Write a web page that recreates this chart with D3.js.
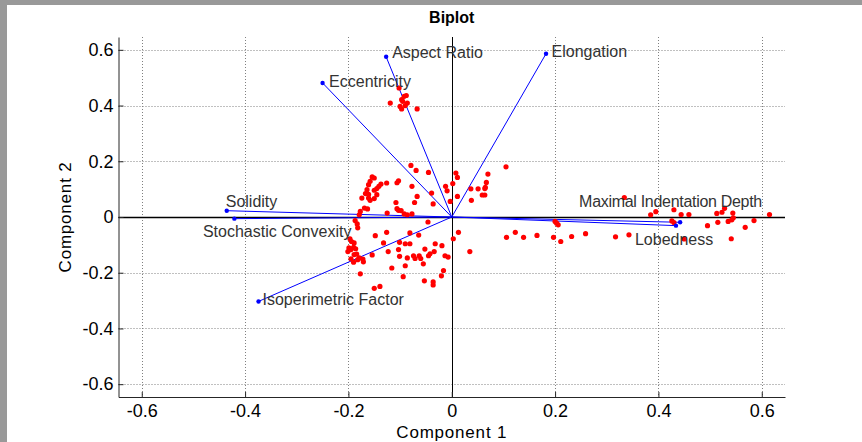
<!DOCTYPE html>
<html>
<head>
<meta charset="utf-8">
<script src="https://cdn.jsdelivr.net/npm/d3@7"></script>
<style>
  body { margin: 0; background: #999999; }
  svg { display: block; font-family: "Liberation Sans", Arial, sans-serif; }
</style>
</head>
<body>
<svg width="862" height="442"></svg>
<script>
// ---- Data
const varNames = ['Aspect Ratio', 'Eccentricity', 'Elongation', 'Solidity',
    'Stochastic Convexity', 'Isoperimetric Factor', 'Maximal Indentation Depth', 'Lobedness'];
const loadX = [-0.127, -0.250, 0.1825, -0.4355, -0.4207, -0.374, 0.442, 0.434];
const loadY = [0.575, 0.481, 0.586, 0.0226, -0.006, -0.303, -0.019, -0.031];

const scores = [
    [-0.102,0.463],[-0.119,0.409],[-0.097,0.421],[-0.092,0.433],[-0.088,0.436],[-0.095,0.415],
    [-0.100,0.397],[-0.097,0.388],[-0.090,0.400],[-0.086,0.409],[-0.067,0.388],
    [-0.079,0.185],[-0.069,0.167],[-0.045,0.160],[-0.154,0.144],[-0.150,0.140],[-0.158,0.128],
    [-0.161,0.116],[-0.103,0.130],[-0.106,0.123],[-0.126,0.122],[-0.137,0.118],[-0.141,0.110],
    [-0.145,0.102],[-0.164,0.098],[-0.150,0.096],[-0.077,0.110],[-0.167,0.084],[-0.161,0.081],
    [-0.145,0.080],[-0.174,0.068],[-0.161,0.068],[-0.158,0.060],[-0.150,0.066],[-0.067,0.074],
    [-0.039,0.086],[-0.072,0.052],[-0.108,0.052],[-0.036,0.047],[-0.106,0.030],[-0.103,0.024],
    [-0.098,0.023],[-0.169,0.032],[-0.163,0.029],[-0.177,0.020],[-0.179,0.008],[-0.125,0.014],
    [-0.092,0.011],[-0.086,0.008],[-0.077,0.011],
    [0.008,0.158],[0.011,0.142],[-0.012,0.110],[-0.009,0.094],[0.002,0.120],[-0.003,0.056],
    [0.011,0.074],[0.037,0.101],[0.038,0.060],[0.070,0.154],[0.067,0.124],[0.065,0.106],
    [0.064,0.102],[0.051,0.101],[0.059,0.079],[0.064,0.079],[0.105,0.180],
    [-0.187,-0.013],[-0.183,-0.025],[-0.182,-0.039],[-0.046,-0.018],[-0.126,-0.055],[-0.148,-0.067],
    [-0.064,-0.065],[-0.081,-0.057],[0.013,-0.055],[0.003,-0.078],
    [-0.197,-0.078],[-0.194,-0.088],[-0.189,-0.093],[-0.190,-0.109],[-0.186,-0.114],[-0.195,-0.117],
    [-0.199,-0.111],[-0.201,-0.124],[-0.189,-0.135],[-0.184,-0.133],[-0.195,-0.150],[-0.190,-0.162],
    [-0.182,-0.153],[-0.179,-0.147],
    [-0.132,-0.093],[-0.101,-0.091],[-0.090,-0.096],[-0.081,-0.096],[-0.032,-0.096],[-0.019,-0.103],
    [-0.103,-0.117],[-0.123,-0.124],[-0.052,-0.115],[-0.034,-0.124],[-0.042,-0.132],[-0.045,-0.139],
    [-0.154,-0.136],[-0.101,-0.141],[-0.086,-0.147],[-0.074,-0.139],[-0.071,-0.149],[-0.063,-0.139],
    [-0.060,-0.149],[-0.013,-0.139],[-0.007,-0.144],[-0.172,-0.151],[-0.171,-0.161],[-0.055,-0.168],
    [-0.090,-0.175],[-0.116,-0.183],[-0.177,-0.204],[-0.016,-0.192],[-0.020,-0.211],[-0.094,-0.214],
    [-0.053,-0.229],[-0.036,-0.233],[-0.036,-0.244],[-0.139,-0.249],[-0.150,-0.256],[0.035,-0.124],
    [0.106,-0.073],[0.123,-0.055],[0.139,-0.073],[0.165,-0.066],[0.197,-0.073],[0.211,-0.088],
    [0.232,-0.070],[0.259,-0.060],[0.200,-0.016],[0.203,-0.022],[0.206,-0.028],
    [0.334,0.070],[0.385,0.008],[0.395,0.019],[0.430,0.026],[0.426,-0.014],[0.430,-0.020],
    [0.444,0.009],[0.459,0.009],[0.317,-0.071],[0.343,-0.064],[0.450,-0.079],[0.495,-0.031],
    [0.513,0.013],[0.515,-0.019],[0.523,0.017],[0.528,0.031],[0.535,-0.016],[0.544,0.014],
    [0.545,-0.003],[0.542,-0.010],[0.541,-0.078],[0.568,-0.037],[0.585,-0.013],[0.615,0.009]
];

const xTicks = [-0.6, -0.4, -0.2, 0, 0.2, 0.4, 0.6];
const yTicks = [-0.6, -0.4, -0.2, 0, 0.2, 0.4, 0.6];

// ---- Layout
const svg = d3.select('svg');
const W = 862, H = 442;
const margens = { left: 118.5, right: 77, top: 37, bottom: 45 };

svg.append('rect').attr('width', W).attr('height', H).attr('fill', '#999999');
svg.append('rect').attr('x', 7).attr('y', 5).attr('width', W - 7).attr('height', H - 5).attr('fill', '#ffffff');

const mapX = d3.scaleLinear().domain([-0.645, 0.645]).range([margens.left, W - margens.right]);
const mapY = d3.scaleLinear().domain([-0.646, 0.646]).range([H - margens.bottom, margens.top]);

// ---- Grid
const grid = svg.append('g')
    .attr('stroke', '#808080')
    .attr('stroke-width', 1)
    .attr('stroke-dasharray', '1,2');
grid.selectAll('.gx').data(xTicks).join('line')
    .attr('class', 'gx')
    .attr('x1', d => Math.round(mapX(d)) + 0.5).attr('x2', d => Math.round(mapX(d)) + 0.5)
    .attr('y1', mapY.range()[1]).attr('y2', mapY.range()[0]);
grid.selectAll('.gy').data(yTicks).join('line')
    .attr('class', 'gy')
    .attr('y1', d => Math.round(mapY(d)) + 0.5).attr('y2', d => Math.round(mapY(d)) + 0.5)
    .attr('x1', mapX.range()[0]).attr('x2', mapX.range()[1]);

// ---- zero lines
svg.append('line')
    .attr('x1', mapX.range()[0]).attr('x2', mapX.range()[1])
    .attr('y1', Math.round(mapY(0)) + 0.5).attr('y2', Math.round(mapY(0)) + 0.5)
    .attr('stroke', '#000').attr('stroke-width', 1.4);
svg.append('line')
    .attr('y1', mapY.range()[1]).attr('y2', mapY.range()[0])
    .attr('x1', Math.round(mapX(0)) + 0.5).attr('x2', Math.round(mapX(0)) + 0.5)
    .attr('stroke', '#000').attr('stroke-width', 1);

// ---- loading vectors
const vars = varNames.map((n, i) => ({ name: n, x: loadX[i], y: loadY[i] }));
svg.append('g').selectAll('line').data(vars).join('line')
    .attr('x1', mapX(0)).attr('y1', mapY(0))
    .attr('x2', d => mapX(d.x)).attr('y2', d => mapY(d.y))
    .attr('stroke', '#0000ff').attr('stroke-width', 1);

// ---- scores
svg.append('g').selectAll('circle').data(scores).join('circle')
    .attr('cx', d => mapX(d[0])).attr('cy', d => mapY(d[1]))
    .attr('r', 2.6)
    .attr('fill', '#ff0000');

svg.append('g').selectAll('circle').data(vars).join('circle')
    .attr('cx', d => mapX(d.x)).attr('cy', d => mapY(d.y))
    .attr('r', 2.2)
    .attr('fill', '#0000ff');

// label offsets from each vector tip (px)
const labelOffsets = [[6, 1.5], [6.5, 4], [5.5, 3], [-1, -4], [-31.5, 18.5], [4, 4], [-101, -15.5], [-41, 19]];
svg.append('g').selectAll('text').data(vars).join('text')
    .attr('x', (d, i) => mapX(d.x) + labelOffsets[i][0])
    .attr('y', (d, i) => mapY(d.y) + labelOffsets[i][1])
    .attr('fill', '#333')
    .style('font-size', '16px')
    .style('letter-spacing', (d, i) => i === 6 ? '-0.3px' : null)
    .text(d => d.name);

// ---- axes
const fmt = d => String(d);
const xAxis = d3.axisBottom(mapX).tickValues(xTicks).tickFormat(fmt)
    .tickSizeInner(-5).tickSizeOuter(0).tickPadding(7);
const gX = svg.append('g')
    .attr('transform', `translate(0, ${H - margens.bottom})`)
    .call(xAxis);
gX.select('.domain').attr('stroke', '#262626');
gX.selectAll('.tick line').attr('stroke', '#262626');
gX.selectAll('.tick text').attr('fill', '#000').style('font-size', '18px');

const yAxis = d3.axisLeft(mapY).tickValues(yTicks).tickFormat(fmt)
    .tickSizeInner(-5).tickSizeOuter(0).tickPadding(5);
const gY = svg.append('g')
    .attr('transform', `translate(${margens.left}, 0)`)
    .call(yAxis);
gY.select('.domain').attr('stroke', '#262626');
gY.selectAll('.tick line').attr('stroke', '#262626');
gY.selectAll('.tick text').attr('fill', '#000').style('font-size', '18px');

svg.selectAll('.tick text').style('font-family', '"Liberation Sans", Arial, sans-serif');

// ---- titles
svg.append('text')
    .attr('x', mapX(0)).attr('y', 23)
    .attr('text-anchor', 'middle')
    .style('font-size', '16px').style('font-weight', 'bold')
    .text('Biplot');

svg.append('text')
    .attr('x', mapX(0)).attr('y', 438)
    .attr('text-anchor', 'middle')
    .style('font-size', '17px').style('letter-spacing', '0.8px')
    .text('Component 1');

svg.append('text')
    .attr('transform', `translate(71, ${mapY(0)}) rotate(-90)`)
    .attr('text-anchor', 'middle')
    .style('font-size', '17px').style('letter-spacing', '0.8px')
    .text('Component 2');
</script>
</body>
</html>
